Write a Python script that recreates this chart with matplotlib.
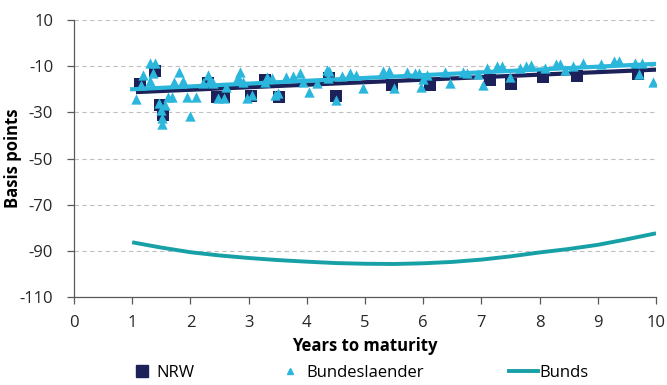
import numpy as np
import matplotlib.pyplot as plt

plt.rcParams['font.family'] = ['Open Sans', 'DejaVu Sans']
plt.rcParams['axes.unicode_minus'] = False

# NRW bonds (squares)
nrw_x = [1.13, 1.39, 1.48, 1.53, 2.30, 2.45, 2.57, 3.04, 3.29, 3.53, 4.38, 4.50,
         5.46, 6.12, 7.15, 7.50, 8.05, 8.65, 9.69]
nrw_y = [-17.6, -12.2, -26.7, -31.3, -17.2, -23.5, -23.5, -22.9, -16.0, -23.4, -15.1, -22.9,
         -18.3, -18.2, -16.0, -17.7, -14.8, -14.3, -13.4]

# Bundeslaender bonds (triangles)
bl_x = [1.06, 1.15, 1.18, 1.31, 1.40, 1.36, 1.31, 1.46, 1.49, 1.51, 1.52, 1.56, 1.62, 1.68,
        1.72, 1.81, 1.85, 1.88, 1.95, 2.00, 2.10, 2.22, 2.31, 2.34, 2.39, 2.48, 2.57, 2.61,
        2.85, 2.82, 2.91, 2.97, 3.05, 3.31, 3.41, 3.28, 3.45, 3.51, 3.65, 3.77, 3.88, 3.94,
        4.03, 4.17, 4.34, 4.37, 4.39, 4.50, 4.60, 4.75, 4.85, 4.97, 5.31, 5.41, 5.49, 5.73,
        5.86, 5.92, 5.97, 6.06, 6.00, 6.37, 6.46, 6.69, 6.75, 6.95, 7.03, 7.09, 7.26, 7.35,
        7.49, 7.66, 7.77, 7.86, 8.09, 8.28, 8.35, 8.44, 8.57, 8.74, 9.05, 9.28, 9.36, 9.64,
        9.76, 9.70, 9.95]
bl_y = [-24.4, -18.2, -13.8, -8.8, -8.8, -12.8, -16.3, -26.1, -29.0, -32.3, -35.0, -26.8, -23.2, -23.5,
        -16.7, -12.4, -17.4, -16.3, -23.2, -31.6, -23.2, -17.4, -13.8, -16.0, -17.4, -23.9, -23.9, -18.9,
        -12.4, -14.6, -16.7, -23.9, -22.5, -14.6, -15.3, -17.0, -22.5, -21.8, -14.6, -14.3, -12.8, -16.7,
        -21.0, -17.4, -11.7, -15.3, -12.0, -24.7, -14.3, -12.8, -13.8, -19.6, -12.0, -12.0, -19.6, -12.4,
        -13.1, -13.1, -18.9, -13.8, -15.7, -12.4, -17.4, -12.4, -12.8, -13.4, -18.2, -10.9, -9.9, -9.9,
        -14.8, -10.9, -9.9, -9.5, -10.9, -9.1, -9.1, -11.7, -9.9, -8.8, -9.1, -7.6, -7.6, -8.5,
        -8.5, -13.4, -16.7]

# trend lines (end points)
nrw_trend_x = [1.1, 10.0]
nrw_trend_y = [-21.2, -11.5]
bl_trend_x = [1.0, 10.0]
bl_trend_y = [-20.0, -9.0]

# Bunds curve
bunds_x = [1, 1.5, 2, 2.5, 3, 3.5, 4, 4.5, 5, 5.5, 6, 6.5, 7, 7.5, 8, 8.5, 9, 9.5, 10]
bunds_y = [-86.3, -88.6, -90.6, -92.0, -93.1, -94.0, -94.7, -95.3, -95.6, -95.7, -95.4, -94.8,
           -93.8, -92.4, -90.7, -89.2, -87.4, -85.0, -82.4]

navy = '#1c2259'
light = '#2bb6dc'
teal = '#17a0a6'

fig = plt.figure(figsize=(6.67, 3.85), dpi=100)
ax = fig.add_axes([74 / 667, 1 - 297 / 385, 582 / 667, 277 / 385])

ax.plot(bunds_x, bunds_y, color=teal, lw=2.8, solid_capstyle='butt', zorder=3)
ax.scatter(nrw_x, nrw_y, marker='s', s=80, color=navy, linewidths=0, zorder=2)
ax.plot(nrw_trend_x, nrw_trend_y, color=navy, lw=3.0, zorder=3)
ax.plot(bl_trend_x, bl_trend_y, color=light, lw=3.0, zorder=3)
ax.scatter(bl_x, bl_y, marker='^', s=55, color=light, linewidths=0, zorder=4)

ax.set_xlim(0, 10)
ax.set_ylim(-110, 10)
ax.set_xticks(range(0, 11))
ax.set_yticks(range(-110, 11, 20))
ax.grid(axis='y', color='#c0c0c0', linestyle=(0, (4, 3)), lw=0.8)
ax.set_axisbelow(True)
for s in ['top', 'right']:
    ax.spines[s].set_visible(False)
for s in ['left', 'bottom']:
    ax.spines[s].set_color('#595959')
    ax.spines[s].set_linewidth(0.9)
ax.tick_params(axis='both', direction='out', length=5, width=0.9, color='#595959',
               labelsize=12, labelcolor='#262626')
ax.tick_params(axis='y', pad=10)
ax.tick_params(axis='x', pad=8)
ax.set_xlabel('Years to maturity', fontsize=12, fontweight='bold')
ax.set_ylabel('Basis points', fontsize=12, fontweight='bold')
ax.xaxis.set_label_coords(0.5, -0.145)
ax.yaxis.set_label_coords(-0.089, 0.5)

# legend entries placed separately
y_leg = 1 - 373 / 385
fs = 12
fig.legend([plt.Line2D([], [], marker='s', color=navy, ls='none', markersize=8.4)], ['NRW'],
           loc='center left', bbox_to_anchor=(133.5 / 667, y_leg), frameon=False,
           handlelength=1.0, handletextpad=0.4, borderpad=0, borderaxespad=0, fontsize=fs)
fig.legend([plt.Line2D([], [], marker='^', color=light, ls='none', markersize=5)], ['Bundeslaender'],
           loc='center left', bbox_to_anchor=(281.5 / 667, y_leg), frameon=False,
           handlelength=1.0, handletextpad=0.5, borderpad=0, borderaxespad=0, fontsize=fs)
fig.legend([plt.Line2D([], [], color=teal, lw=2.8)], ['Bunds'],
           loc='center left', bbox_to_anchor=(509 / 667, y_leg), frameon=False,
           handlelength=1.75, handletextpad=0.06, borderpad=0, borderaxespad=0, fontsize=fs)

fig.savefig('out.png', dpi=100)
